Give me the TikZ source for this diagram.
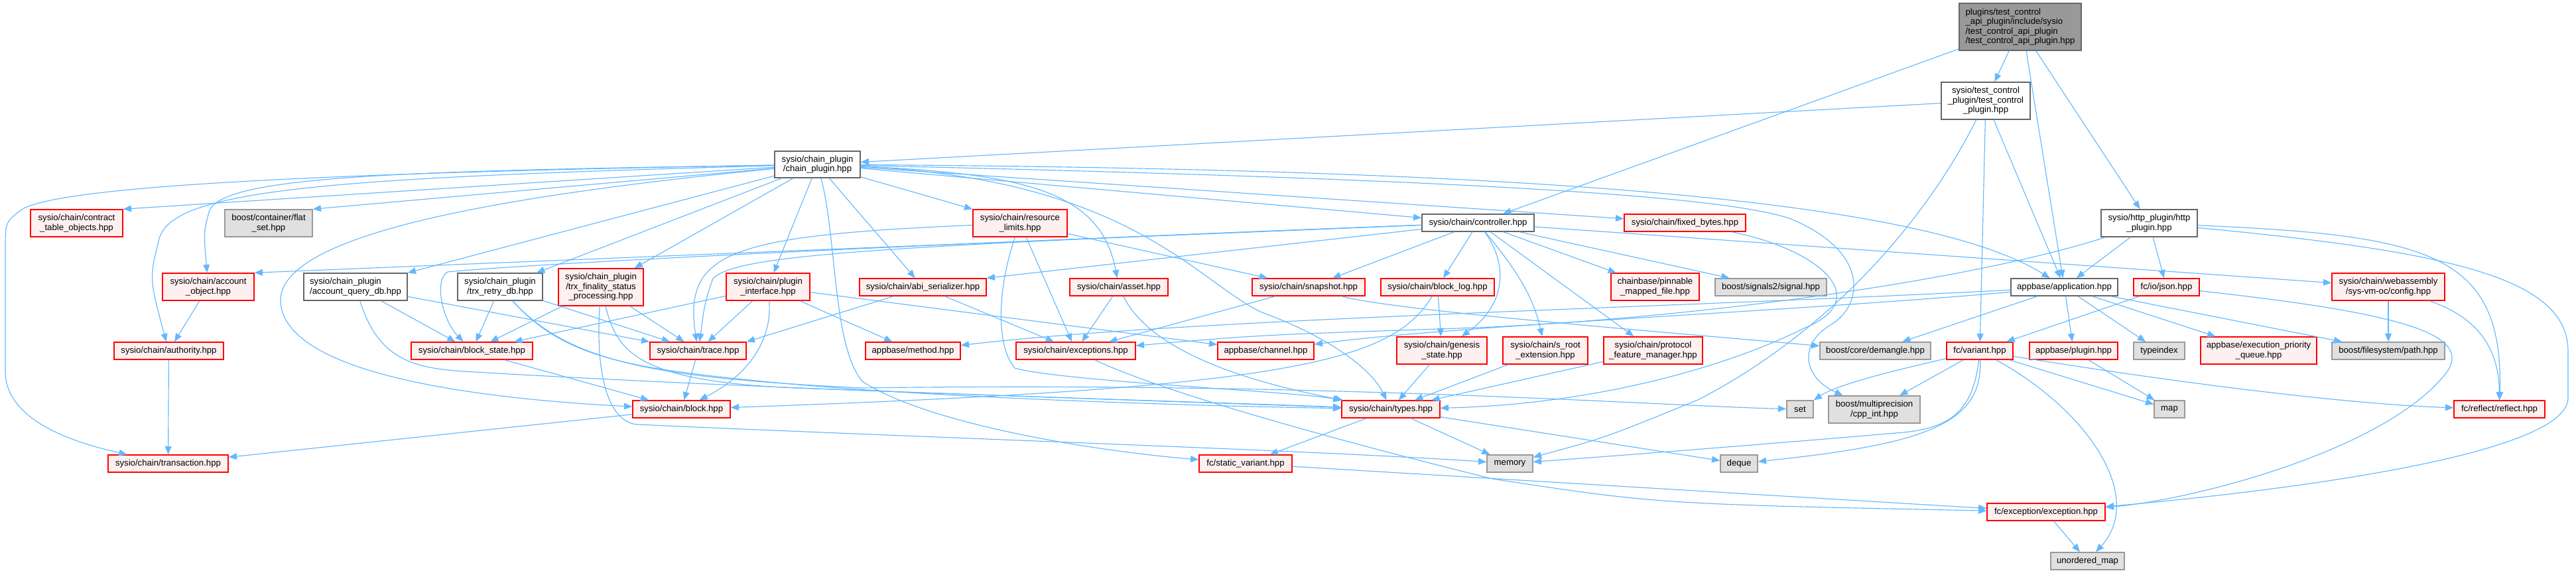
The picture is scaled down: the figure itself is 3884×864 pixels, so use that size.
\documentclass[tikz,border=0pt]{standalone}
\usepackage{fontspec}
\setmainfont{Liberation Sans}
\usepackage{xcolor}
\usepackage{tikz}
\usetikzlibrary{arrows.meta}
\definecolor{edgeblue}{HTML}{63B8FF}
\definecolor{redfill}{HTML}{FFF0F0}
\definecolor{grayfill}{HTML}{E0E0E0}
\definecolor{grayborder}{HTML}{999999}
\definecolor{darkborder}{HTML}{666666}

\begin{document}
\begin{tikzpicture}[
    x=0.02cm, y=-0.02cm,
    font=\fontsize{7.5}{8.3}\selectfont,
    >={Triangle[length=7pt,width=5.6pt]},
    sz/.style 2 args={minimum width=#1*0.02cm, minimum height=#2*0.02cm},
    file_node/.style={line width=0.8pt, inner sep=0pt, align=center},
    red_node/.style={file_node, draw=red, fill=redfill},
    sys_node/.style={file_node, draw=grayborder, fill=grayfill},
    plain_node/.style={file_node, draw=darkborder, fill=white},
    root_node/.style={file_node, draw=darkborder, fill=grayborder, align=left},
    arrow/.style={->, line width=0.65pt, draw=edgeblue}
]
\useasboundingbox (0,0) rectangle (3884,864);

% Root and plugin headers
\node[root_node, sz={184}{71}] (root) at (3046,40.5) {plugins/test\_control\\\_api\_plugin/include/sysio\\/test\_control\_api\_plugin\\/test\_control\_api\_plugin.hpp};
\node[plain_node, sz={134}{56}] (tcp) at (2994,152) {sysio/test\_control\\\_plugin/test\_control\\\_plugin.hpp};
\node[plain_node, sz={129}{40}] (cp) at (1232.5,248) {sysio/chain\_plugin\\/chain\_plugin.hpp};
\node[plain_node, sz={169}{26}] (ctl) at (2228.5,336) {sysio/chain/controller.hpp};
\node[plain_node, sz={145}{41}] (http) at (3240.5,336.5) {sysio/http\_plugin/http\\\_plugin.hpp};

% Row y=336
\node[red_node, sz={139}{41}] (ctobj) at (115.5,336.5) {sysio/chain/contract\\\_table\_objects.hpp};
\node[sys_node, sz={132}{41}] (flatset) at (405,336.5) {boost/container/flat\\\_set.hpp};
\node[red_node, sz={142}{41}] (reslim) at (1538,336.5) {sysio/chain/resource\\\_limits.hpp};
\node[red_node, sz={183}{26}] (fixedb) at (2540.5,336) {sysio/chain/fixed\_bytes.hpp};

% Row y=433
\node[red_node, sz={138}{41}] (acctobj) at (314,432.5) {sysio/chain/account\\\_object.hpp};
\node[plain_node, sz={156}{41}, align=left] (aqdb) at (536,432.5) {sysio/chain\_plugin\\/account\_query\_db.hpp};
\node[plain_node, sz={128}{41}] (retry) at (754,432.5) {sysio/chain\_plugin\\/trx\_retry\_db.hpp};
\node[red_node, sz={128}{56}] (finality) at (906,433) {sysio/chain\_plugin\\/trx\_finality\_status\\\_processing.hpp};
\node[red_node, sz={126}{41}] (pluginif) at (1158,432.5) {sysio/chain/plugin\\\_interface.hpp};
\node[red_node, sz={191}{26}] (abiser) at (1391.5,433) {sysio/chain/abi\_serializer.hpp};
\node[red_node, sz={148}{26}] (asset) at (1687,433) {sysio/chain/asset.hpp};
\node[red_node, sz={170}{26}] (snapshot) at (1973,433) {sysio/chain/snapshot.hpp};
\node[red_node, sz={171}{26}] (blocklog) at (2167.5,433) {sysio/chain/block\_log.hpp};
\node[red_node, sz={133}{41}] (pinnable) at (2495.5,432.5) {chainbase/pinnable\\\_mapped\_file.hpp};
\node[sys_node, sz={168}{26}] (signals2) at (2670,433) {boost/signals2/signal.hpp};
\node[plain_node, sz={161}{26}] (app) at (3112.5,433) {appbase/application.hpp};
\node[red_node, sz={99}{26}] (json) at (3266.5,433) {fc/io/json.hpp};
\node[red_node, sz={170}{41}] (wasmcfg) at (3601,432.5) {sysio/chain/webassembly\\/sys-vm-oc/config.hpp};

% Row y=529
\node[red_node, sz={165}{26}] (authority) at (254.5,529) {sysio/chain/authority.hpp};
\node[red_node, sz={183}{26}] (blockstate) at (711.5,529) {sysio/chain/block\_state.hpp};
\node[red_node, sz={145}{26}] (trace) at (1052.5,529) {sysio/chain/trace.hpp};
\node[red_node, sz={143}{26}] (method) at (1376.5,529) {appbase/method.hpp};
\node[red_node, sz={180}{26}] (exceptions) at (1622,529) {sysio/chain/exceptions.hpp};
\node[red_node, sz={145}{26}] (channel) at (1908.5,529) {appbase/channel.hpp};
\node[red_node, sz={136}{41}] (genesis) at (2174,528.5) {sysio/chain/genesis\\\_state.hpp};
\node[red_node, sz={128}{41}] (sroot) at (2330,528.5) {sysio/chain/s\_root\\\_extension.hpp};
\node[red_node, sz={149}{41}] (pfm) at (2492.5,528.5) {sysio/chain/protocol\\\_feature\_manager.hpp};
\node[sys_node, sz={167}{26}] (demangle) at (2827.5,529) {boost/core/demangle.hpp};
\node[red_node, sz={100}{26}] (variant) at (2985,529) {fc/variant.hpp};
\node[red_node, sz={133}{26}] (plugin) at (3126.5,529) {appbase/plugin.hpp};
\node[sys_node, sz={77}{26}] (typeindex) at (3255.5,529) {typeindex};
\node[red_node, sz={175}{41}] (epq) at (3405.5,528.5) {appbase/execution\_priority\\\_queue.hpp};
\node[sys_node, sz={170}{26}] (fspath) at (3601,529) {boost/filesystem/path.hpp};

% Row y=617
\node[red_node, sz={147}{26}] (block) at (1027.5,617) {sysio/chain/block.hpp};
\node[red_node, sz={148}{26}] (types) at (2097,617) {sysio/chain/types.hpp};
\node[sys_node, sz={40}{26}] (set) at (2714,617) {set};
\node[sys_node, sz={138}{41}] (cppint) at (2826,617.5) {boost/multiprecision\\/cpp\_int.hpp};
\node[sys_node, sz={46}{26}] (map) at (3271,617) {map};
\node[red_node, sz={137}{26}] (reflect) at (3768.5,617) {fc/reflect/reflect.hpp};

% Bottom rows
\node[red_node, sz={181}{26}] (transaction) at (253.5,699) {sysio/chain/transaction.hpp};
\node[red_node, sz={140}{26}] (staticv) at (1878,699) {fc/static\_variant.hpp};
\node[sys_node, sz={69}{26}] (memory) at (2276.5,699) {memory};
\node[sys_node, sz={56}{26}] (deque) at (2622,699) {deque};
\node[red_node, sz={178}{26}] (exception) at (3085,772) {fc/exception/exception.hpp};
\node[sys_node, sz={111}{26}] (umap) at (3147.5,846) {unordered\_map};

% Root includes
\draw[arrow] (root) -- (tcp);
\draw[arrow] (root) -- (ctl);
\draw[arrow] ([xshift=0.18cm]root.south) -- (app);
\draw[arrow] (root) -- (http);

% test_control_plugin includes
\draw[arrow] (tcp) -- (cp);
\draw[arrow] (tcp) -- (app);
\draw[arrow] (tcp) -- (variant);
\draw[arrow] (tcp) .. controls (2905,330) and (2760,500) .. (2560,603) .. controls (2420,660) .. (memory);

% chain_plugin includes
\draw[arrow] (cp) -- (ctobj.north east);
\draw[arrow] (cp) -- (flatset.north east);
\draw[arrow] (cp) .. controls (600,258) and (330,265) .. (315,320) .. controls (307,350) .. (acctobj);
\draw[arrow] (cp) .. controls (500,268) and (260,285) .. (240,360) .. controls (225,420) .. (authority);
\draw[arrow] (cp) .. controls (400,262) and (70,285) .. (30,318) .. controls (8,335) .. (8,380) -- (8,560) .. controls (8,630) and (100,665) .. (transaction);
\draw[arrow] (cp) -- (aqdb.north east);
\draw[arrow] (cp) -- (retry);
\draw[arrow] (cp) -- (finality);
\draw[arrow] (cp) -- (pluginif);
\draw[arrow] (cp) -- (abiser);
\draw[arrow] (cp) -- (reslim.north west);
\draw[arrow] (cp) .. controls (1550,262) and (1660,290) .. (asset);
\draw[arrow] (cp) -- (ctl);
\draw[arrow] (cp) -- (fixedb);
\draw[arrow] (cp) .. controls (2300,255) and (2900,300) .. (app);
\draw[arrow] (cp) .. controls (2200,270) and (2600,295) .. (2700,330) .. controls (2820,380) and (2810,460) .. (2760,490) .. controls (2710,520) and (2720,570) .. (cppint);
\draw[arrow] (cp) .. controls (700,300) and (430,360) .. (423,450) .. controls (420,560) and (700,600) .. (block);
\draw[arrow] (cp) .. controls (1700,270) and (1800,420) .. (1900,470) .. controls (2010,510) and (2070,560) .. (types);
\draw[arrow] (cp) .. controls (1262,360) and (1255,520) .. (1300,575) .. controls (1400,640) and (1650,680) .. (staticv);

% controller includes
\draw[arrow] (ctl) -- (snapshot);
\draw[arrow] (ctl) -- (blocklog);
\draw[arrow] (ctl) .. controls (2275,400) and (2270,460) .. (genesis);
\draw[arrow] (ctl) .. controls (2280,400) and (2310,440) .. (sroot);
\draw[arrow] (ctl) -- (pfm);
\draw[arrow] (ctl) -- (pinnable);
\draw[arrow] (ctl) -- (signals2);
\draw[arrow] (ctl) -- (wasmcfg);
\draw[arrow] (ctl) -- (acctobj.north east);
\draw[arrow] (ctl) .. controls (1300,372) and (800,398) .. (675,410) .. controls (655,420) and (665,480) .. (blockstate);
\draw[arrow] (ctl) .. controls (1300,372) and (1110,385) .. (1075,420) .. controls (1060,460) and (1060,480) .. (trace);
\draw[arrow] (ctl) -- (abiser.north east);

% resource_limits, abi_serializer, asset, snapshot
\draw[arrow] (reslim) .. controls (1100,355) and (1030,380) .. (trace);
\draw[arrow] (reslim) -- (exceptions);
\draw[arrow] (reslim) -- (snapshot);
\draw[arrow] (reslim) .. controls (1505,430) and (1500,520) .. (1530,555) .. controls (1600,575) and (1950,590) .. (types);
\draw[arrow] (abiser) -- (trace.north east);
\draw[arrow] (abiser) -- (exceptions);
\draw[arrow] (asset) -- (exceptions);
\draw[arrow] (asset) .. controls (1730,520) and (1850,570) .. (types);
\draw[arrow] (snapshot) -- (exceptions);
\draw[arrow] (snapshot) .. controls (2100,468) and (2500,500) .. (demangle);

% block_log, genesis, s_root, protocol features, fixed_bytes
\draw[arrow] (blocklog) -- (genesis);
\draw[arrow] (blocklog) .. controls (2100,545) and (1950,585) .. (block);
\draw[arrow] (genesis) -- (types);
\draw[arrow] (sroot) -- (types);
\draw[arrow] (pfm) -- (types);
\draw[arrow] (fixedb) .. controls (2740,375) and (2830,450) .. (2720,495) .. controls (2600,555) and (2400,610) .. (types);

% types and friends
\draw[arrow] (types) -- (memory);
\draw[arrow] (types) -- (staticv);
\draw[arrow] (types) -- (deque);
\draw[arrow] (staticv) -- (exception);
\draw[arrow] (exceptions) .. controls (1750,590) and (2000,660) .. (2250,722) .. controls (2500,760) .. (exception);
\draw[arrow] (block) -- (transaction);
\draw[arrow] (trace) -- (block);
\draw[arrow] (blockstate) -- (block);

% plugin_interface
\draw[arrow] (pluginif) -- (blockstate);
\draw[arrow] (pluginif) -- (trace);
\draw[arrow] (pluginif) .. controls (1165,520) and (1120,570) .. (block);
\draw[arrow] (pluginif) -- (method);
\draw[arrow] (pluginif) -- (channel);

% chain_plugin helpers
\draw[arrow] (retry) -- (blockstate);
\draw[arrow] (retry) -- (trace);
\draw[arrow] (retry) .. controls (850,540) and (950,555) .. (1150,575) .. controls (1400,600) and (1800,612) .. (types);
\draw[arrow] (retry) .. controls (860,550) and (1000,570) .. (1300,585) .. controls (2000,575) and (2500,612) .. (set);
\draw[arrow] (finality) -- (blockstate);
\draw[arrow] (finality) -- (trace);
\draw[arrow] (finality) .. controls (930,530) and (960,575) .. (1200,585) .. controls (1600,600) and (1900,610) .. (types);
\draw[arrow] (finality) .. controls (898,560) and (915,635) .. (960,640) .. controls (1400,660) and (2000,680) .. (memory);
\draw[arrow] (aqdb) -- (blockstate);
\draw[arrow] (aqdb) -- (trace);
\draw[arrow] (aqdb) .. controls (570,540) and (620,555) .. (700,560) .. controls (1200,590) and (1800,605) .. (types);
\draw[arrow] (acctobj) -- (authority);
\draw[arrow] (authority) -- (transaction);

% application
\draw[arrow] (app) .. controls (2500,465) and (1800,480) .. (method);
\draw[arrow] (app) .. controls (2700,470) and (2200,490) .. (channel);
\draw[arrow] (app) -- (demangle);
\draw[arrow] (app) -- (plugin);
\draw[arrow] (app) -- (typeindex);
\draw[arrow] (app) -- (epq);
\draw[arrow] (app) -- (fspath);

% http_plugin, json, webassembly config
\draw[arrow] (http) -- (app);
\draw[arrow] (http) -- (json);
\draw[arrow] (http) .. controls (3660,355) and (3775,380) .. (reflect);
\draw[arrow] (http) .. controls (3700,380) and (3872,420) .. (3872,530) -- (3872,600) .. controls (3872,680) and (3500,735) .. (exception);
\draw[arrow] (http) .. controls (2950,430) and (2500,485) .. (2200,495) .. controls (1900,505) .. (exceptions);
\draw[arrow] (json) -- (variant);
\draw[arrow] (json) .. controls (3600,470) and (3730,500) .. (3690,560) .. controls (3600,680) and (3300,755) .. (exception);
\draw[arrow] (wasmcfg) -- (fspath);
\draw[arrow] (wasmcfg) .. controls (3740,480) and (3768,530) .. (reflect);

% variant
\draw[arrow] (variant) .. controls (2850,560) and (2770,580) .. (set);
\draw[arrow] (variant) -- (cppint);
\draw[arrow] (variant) .. controls (2975,620) and (2940,645) .. (2870,652) .. controls (2600,675) and (2400,690) .. (memory);
\draw[arrow] (variant) .. controls (2990,640) and (2900,670) .. (deque);
\draw[arrow] (variant) .. controls (3150,620) and (3235,750) .. (umap);
\draw[arrow] (variant) -- (map);
\draw[arrow] (variant) .. controls (3300,580) and (3550,610) .. (reflect);
\draw[arrow] (plugin) -- (map);
\draw[arrow] (exception) -- (umap);

\end{tikzpicture}
\end{document}
